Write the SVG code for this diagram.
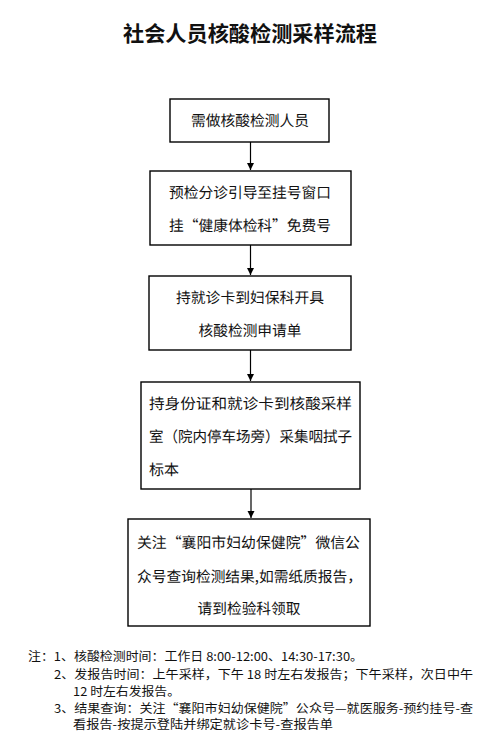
<svg xmlns="http://www.w3.org/2000/svg" width="503" height="748" viewBox="0 0 503 748">
<style>
.box{fill:#fff;stroke:#000;stroke-width:1.4}
.t{font-family:"Noto Sans CJK SC","Noto Sans",sans-serif;font-size:15px;fill:#111;dominant-baseline:central;text-rendering:geometricPrecision}
.n{font-family:"Noto Sans CJK SC","Noto Sans",sans-serif;font-size:12px;fill:#111;dominant-baseline:central}
.title{font-family:"Noto Sans CJK SC","Noto Sans",sans-serif;font-size:21px;font-weight:bold;fill:#111;dominant-baseline:central}
.c{stroke:#000;stroke-width:1.2;fill:none}
</style>
<defs>
<marker id="ah" markerWidth="8" markerHeight="8" refX="7" refY="4" orient="auto" markerUnits="userSpaceOnUse">
<path d="M0,0.5 L7,4 L0,7.5 Z" fill="#000"/>
</marker>
</defs>
<rect width="503" height="748" fill="#fff"/>
<text class="title" x="250" y="32" text-anchor="middle" textLength="254" lengthAdjust="spacingAndGlyphs">社会人员核酸检测采样流程</text>

<g id="connectors">
<line class="c" x1="250.5" y1="142" x2="250.5" y2="170" marker-end="url(#ah)"/>
<line class="c" x1="250.5" y1="245" x2="250.5" y2="275" marker-end="url(#ah)"/>
<line class="c" x1="250.5" y1="350" x2="250.5" y2="381" marker-end="url(#ah)"/>
<line class="c" x1="251" y1="489" x2="251" y2="518" marker-end="url(#ah)"/>
</g>

<g id="node1">
<rect class="box" x="170" y="99" width="159" height="43"/>
<text class="t" x="250" y="120" text-anchor="middle" textLength="118" lengthAdjust="spacingAndGlyphs">需做核酸检测人员</text>
</g>
<g id="node2">
<rect class="box" x="150" y="171" width="201" height="74"/>
<text class="t" x="250" y="192" text-anchor="middle" textLength="162" lengthAdjust="spacingAndGlyphs">预检分诊引导至挂号窗口</text>
<text class="t" x="250" y="225" text-anchor="middle" textLength="162" lengthAdjust="spacingAndGlyphs">挂“健康体检科”免费号</text>
</g>
<g id="node3">
<rect class="box" x="149" y="276" width="202" height="74"/>
<text class="t" x="250" y="297" text-anchor="middle" textLength="148" lengthAdjust="spacingAndGlyphs">持就诊卡到妇保科开具</text>
<text class="t" x="250" y="330" text-anchor="middle" textLength="103" lengthAdjust="spacingAndGlyphs">核酸检测申请单</text>
</g>
<g id="node4">
<rect class="box" x="141" y="382" width="219" height="107"/>
<text class="t" x="149" y="403" textLength="203" lengthAdjust="spacingAndGlyphs">持身份证和就诊卡到核酸采样</text>
<text class="t" x="149" y="436" textLength="203" lengthAdjust="spacingAndGlyphs">室（院内停车场旁）采集咽拭子</text>
<text class="t" x="149" y="469">标本</text>
</g>
<g id="node5">
<rect class="box" x="128" y="519" width="242" height="107"/>
<text class="t" x="137" y="542" textLength="223" lengthAdjust="spacingAndGlyphs">关注“襄阳市妇幼保健院”微信公</text>
<text class="t" x="137" y="576" textLength="225" lengthAdjust="spacingAndGlyphs">众号查询检测结果,如需纸质报告，</text>
<text class="t" x="249" y="608" text-anchor="middle" textLength="103" lengthAdjust="spacingAndGlyphs">请到检验科领取</text>
</g>

<g id="notes">
<text class="n" x="28" y="655" textLength="335" lengthAdjust="spacingAndGlyphs">注：1、核酸检测时间：工作日 8:00-12:00、14:30-17:30。</text>
<text class="n" x="54" y="673" textLength="419" lengthAdjust="spacingAndGlyphs">2、发报告时间：上午采样，下午 18 时左右发报告；下午采样，次日中午</text>
<text class="n" x="73" y="690" textLength="107" lengthAdjust="spacingAndGlyphs">12 时左右发报告。</text>
<text class="n" x="54" y="707" textLength="419" lengthAdjust="spacingAndGlyphs">3、结果查询：关注“襄阳市妇幼保健院”公众号—就医服务-预约挂号-查</text>
<text class="n" x="73" y="723" textLength="260" lengthAdjust="spacingAndGlyphs">看报告-按提示登陆并绑定就诊卡号-查报告单</text>
</g>
</svg>
